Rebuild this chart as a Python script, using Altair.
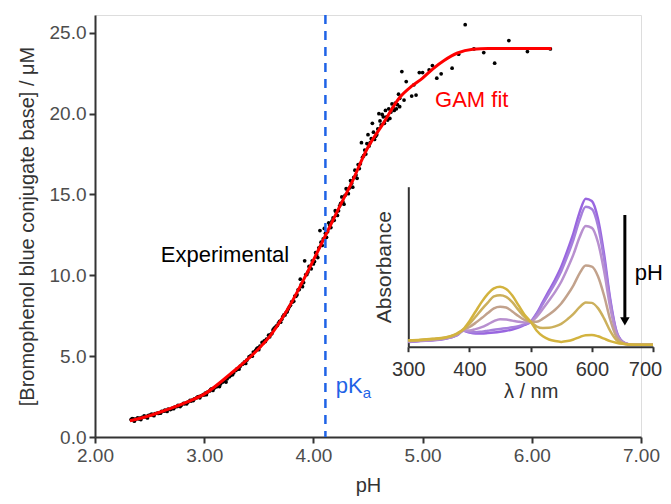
import altair as alt
import pandas as pd

FONT = "Liberation Sans"

# ---------------- main panel data ----------------
exp_ph = [2.33, 2.35, 2.37, 2.39, 2.41, 2.43, 2.45, 2.47, 2.49, 2.51, 2.53, 2.55, 2.57, 2.59,
          2.61, 2.63, 2.65, 2.67, 2.69, 2.71, 2.73, 2.75, 2.77, 2.79, 2.81, 2.83, 2.85, 2.87,
          2.89, 2.91, 2.93, 2.95, 2.97, 2.99, 3.01, 3.03, 3.05, 3.07, 3.09, 3.11, 3.13, 3.15,
          3.17, 3.19, 3.21, 3.23, 3.25, 3.27, 3.29, 3.31, 3.33, 3.35, 3.37, 3.39, 3.41, 3.43,
          3.45, 3.47, 3.49, 3.51, 3.53, 3.55, 3.57, 3.59, 3.61, 3.63, 3.65, 3.67, 3.69, 3.71,
          3.73, 3.75, 3.77, 3.79, 3.81, 3.83, 3.85, 3.87, 3.89, 3.91, 3.93, 3.95, 3.97, 3.99,
          4.01, 4.03, 4.05, 4.07, 4.09, 4.11, 4.13, 4.15, 4.17, 4.19, 4.21, 4.23, 4.25, 4.27,
          4.29, 4.31, 4.33, 4.35, 4.37, 4.39, 4.41, 4.43, 4.45, 4.47, 4.49, 4.51, 4.53, 4.55,
          4.57, 4.59, 4.61, 4.63, 4.65, 4.67, 4.69, 4.71, 4.73, 4.75, 4.77, 4.79,
          2.34, 2.40, 2.46, 2.52, 2.58, 2.64, 2.70, 2.76, 2.82, 2.88, 2.94, 3.00, 3.06, 3.12,
          3.18, 3.24, 3.30, 3.36, 3.42, 3.48, 3.54, 3.60, 3.64, 3.68, 3.72, 3.76, 3.80, 3.84,
          3.86, 3.88, 3.90, 3.92, 3.94, 3.96, 3.98, 4.00, 4.02, 4.04, 4.06, 4.08, 4.10, 4.12,
          4.14, 4.16, 4.18, 4.20, 4.22, 4.24, 4.26, 4.28, 4.30, 4.32, 4.34, 4.36, 4.38, 4.40,
          4.42, 4.44, 4.46, 4.48, 4.50, 4.52, 4.54, 4.56, 4.58, 4.60, 4.62, 4.64, 4.66, 4.68,
          4.70, 4.72, 4.74, 4.76, 4.78,
          2.36, 2.42, 2.48, 2.54, 2.60, 2.66, 2.72, 2.78, 2.84, 2.90, 2.96, 3.02, 3.08, 3.14,
          3.20, 3.26, 3.32, 3.38, 3.44, 3.50, 3.56, 3.62, 3.66, 3.70, 3.74, 3.78, 3.82,
          4.81, 4.85, 4.79, 4.83, 4.90, 4.94, 4.92, 4.97, 5.00, 5.06, 5.09, 5.13, 5.17, 5.27,
          5.33, 5.39, 5.47, 5.56, 5.66, 5.79, 5.96, 6.17]
exp_val = [1.08, 1.12, 1.10, 1.18, 1.16, 1.22, 1.30, 1.27, 1.33, 1.38, 1.36, 1.45, 1.48, 1.50,
           1.58, 1.60, 1.63, 1.72, 1.70, 1.78, 1.85, 1.88, 1.93, 1.97, 2.08, 2.10, 2.15, 2.27,
           2.28, 2.36, 2.42, 2.50, 2.55, 2.62, 2.72, 2.78, 2.85, 2.98, 3.02, 3.10, 3.22, 3.28,
           3.40, 3.52, 3.60, 3.72, 3.85, 3.98, 4.12, 4.20, 4.38, 4.50, 4.65, 4.75, 4.95, 5.05,
           5.25, 5.35, 5.52, 5.62, 5.85, 5.95, 6.05, 6.30, 6.35, 6.62, 6.78, 6.90, 7.15, 7.28,
           7.55, 7.70, 7.92, 8.15, 8.35, 8.72, 8.80, 9.12, 9.45, 9.55, 10.05, 10.20, 10.45, 10.90,
           10.85, 11.25, 11.70, 12.05, 12.25, 12.60, 12.70, 13.10, 13.35, 13.40, 13.90, 14.00, 14.45, 14.55,
           14.95, 15.30, 15.40, 15.70, 16.05, 16.20, 16.85, 16.90, 17.30, 17.75, 18.15, 18.00, 18.45, 18.85,
           18.60, 19.05, 19.55, 19.95, 19.40, 19.80, 20.30, 20.10, 20.35, 20.65, 20.55, 20.95,
           1.14, 1.12, 1.24, 1.42, 1.46, 1.66, 1.74, 1.95, 2.05, 2.22, 2.48, 2.60, 2.95, 3.15,
           3.45, 3.80, 4.22, 4.55, 4.98, 5.45, 5.82, 6.20, 6.72, 7.05, 7.45, 7.75, 8.35, 8.70,
           9.10, 9.76, 9.30, 10.90, 10.05, 10.55, 10.40, 10.70, 11.40, 11.10, 12.77, 11.85, 12.90, 12.35,
           13.25, 12.95, 13.55, 14.00, 13.70, 14.30, 14.85, 14.40, 15.36, 15.05, 15.85, 15.45, 16.50, 16.00,
           16.60, 18.20, 17.40, 17.50, 18.70, 18.20, 19.40, 18.40, 18.70, 20.00, 19.30, 19.80, 20.20, 19.60,
           19.70, 20.60, 20.20, 20.30, 21.20,
           0.98, 1.08, 1.18, 1.32, 1.47, 1.58, 1.75, 1.88, 2.05, 2.25, 2.42, 2.62, 2.88, 3.12,
           3.40, 3.85, 4.20, 4.55, 5.00, 5.40, 5.90, 6.40, 6.85, 7.10, 7.55, 8.05, 8.40,
           22.60, 21.98, 20.43, 20.84, 21.09, 21.15, 21.78, 22.54, 22.54, 22.70, 22.97, 22.19, 22.46, 22.81,
           23.68, 25.50, 24.00, 23.78, 23.12, 24.52, 23.84, 24.00]

fit_ph = [2.32, 2.45, 2.63, 2.87, 3.00, 3.24, 3.48, 3.60, 3.76, 3.97, 4.106, 4.27, 4.335,
          4.49, 4.64, 4.79, 4.90, 5.00, 5.10, 5.20, 5.32, 5.46, 5.60, 6.18]
fit_val = [1.00, 1.22, 1.62, 2.23, 2.65, 3.90, 5.33, 6.22, 7.85, 10.53, 12.40, 14.65, 15.50,
           17.80, 19.40, 21.00, 21.70, 22.20, 22.80, 23.30, 23.75, 23.98, 24.03, 24.03]

pka = 4.11
x_ticks = [2, 3, 4, 5, 6, 7]
y_ticks = [0, 5, 10, 15, 20, 25]

# ---------------- inset data ----------------
wavelength = [300, 320, 340, 360, 370, 380, 390, 400, 410, 420, 430, 440, 450, 460, 470, 480, 490,
              500, 510, 520, 530, 540, 550, 560, 570, 580, 590, 600, 610, 620, 630, 640, 650,
              660, 680, 700]
spec_names = ["s1", "s2", "s3", "s4", "s5", "s6"]
spec_colors = ["#9966e0", "#a680dc", "#b890cf", "#c2a28c", "#ccb05c", "#d3b33e"]
s1 = [0.030, 0.036, 0.040, 0.050, 0.058, 0.072, 0.100, 0.088, 0.082, 0.082, 0.085, 0.089, 0.094,
      0.100, 0.108, 0.120, 0.136, 0.156, 0.210, 0.280, 0.350, 0.420, 0.500, 0.600, 0.710, 0.840,
      0.925, 0.910, 0.800, 0.580, 0.300, 0.100, 0.032, 0.016, 0.012, 0.012]
s2 = [0.031, 0.037, 0.041, 0.050, 0.059, 0.073, 0.101, 0.092, 0.090, 0.094, 0.100, 0.106, 0.111,
      0.116, 0.121, 0.128, 0.140, 0.156, 0.203, 0.267, 0.332, 0.397, 0.472, 0.566, 0.670, 0.793,
      0.874, 0.860, 0.756, 0.548, 0.284, 0.096, 0.031, 0.016, 0.012, 0.012]
s3 = [0.032, 0.038, 0.042, 0.052, 0.060, 0.074, 0.102, 0.102, 0.110, 0.122, 0.140, 0.160, 0.172,
      0.170, 0.163, 0.156, 0.152, 0.156, 0.188, 0.237, 0.289, 0.343, 0.406, 0.487, 0.577, 0.684,
      0.754, 0.743, 0.653, 0.474, 0.247, 0.085, 0.029, 0.016, 0.012, 0.012]
s4 = [0.035, 0.040, 0.045, 0.054, 0.063, 0.078, 0.105, 0.123, 0.149, 0.179, 0.210, 0.240, 0.250,
      0.245, 0.220, 0.192, 0.168, 0.156, 0.156, 0.175, 0.201, 0.231, 0.270, 0.323, 0.384, 0.458,
      0.507, 0.500, 0.440, 0.320, 0.170, 0.063, 0.025, 0.015, 0.012, 0.012]
s5 = [0.038, 0.042, 0.048, 0.056, 0.066, 0.081, 0.108, 0.143, 0.187, 0.233, 0.275, 0.315, 0.322,
      0.312, 0.278, 0.230, 0.186, 0.156, 0.126, 0.117, 0.118, 0.127, 0.143, 0.171, 0.205, 0.247,
      0.277, 0.274, 0.241, 0.177, 0.099, 0.043, 0.021, 0.014, 0.012, 0.012]
s6 = [0.040, 0.044, 0.050, 0.058, 0.068, 0.084, 0.110, 0.160, 0.220, 0.280, 0.330, 0.365, 0.375,
      0.360, 0.320, 0.260, 0.200, 0.156, 0.100, 0.065, 0.045, 0.035, 0.030, 0.035, 0.045, 0.060,
      0.072, 0.073, 0.065, 0.050, 0.035, 0.025, 0.018, 0.014, 0.012, 0.012]
spectra = [s1, s2, s3, s4, s5, s6]
inset_ticks = [300, 400, 500, 600, 700]

# ---------------- frames ----------------
exp_df = pd.DataFrame({"pH": exp_ph, "conc": exp_val})
fit_df = pd.DataFrame({"pH": fit_ph, "conc": fit_val})
pka_df = pd.DataFrame({"pH": [pka]})
lab_df = pd.DataFrame({"pH": [3.19, 5.45], "conc": [10.84, 20.41],
                       "txt": ["Experimental", "GAM fit"], "col": ["black", "red"]})
pk_df = pd.DataFrame({"pH": [4.205], "conc": [2.7]})

rows = []
for name, vals in zip(spec_names, spectra):
    for w, v in zip(wavelength, vals):
        rows.append({"nm": w, "absb": v, "spec": name})
spec_df = pd.DataFrame(rows)
arrow_df = pd.DataFrame({"nm": [654], "absb": [0.823], "absb2": [0.18]})
head_df = pd.DataFrame({"nm": [654], "absb": [0.158]})
ph_df = pd.DataFrame({"nm": [670], "absb": [0.417], "txt": ["pH"]})

W, H = 546, 422

# ---------------- main encodings ----------------
xm = alt.X("pH:Q", scale=alt.Scale(domain=[2, 7], nice=False, zero=False),
           axis=alt.Axis(values=x_ticks, format=".2f", title="pH", grid=False, labelFlush=False,
                         domainColor="#333333", domainWidth=2, tickColor="#333333",
                         tickWidth=2, tickSize=6, labelPadding=3, labelFontSize=19,
                         labelColor="#4d4d4d", labelFont=FONT, titleFont=FONT,
                         titleFontSize=20, titleFontWeight="normal", titleColor="#333333",
                         titlePadding=10))
ym = alt.Y("conc:Q", scale=alt.Scale(domain=[0, 26.1], nice=False),
           axis=alt.Axis(values=y_ticks, format=".1f",
                         title="[Bromophenol blue conjugate base] / μM", grid=False,
                         domainColor="#333333", domainWidth=2, tickColor="#333333",
                         tickWidth=2, tickSize=6, labelPadding=3, labelFontSize=19,
                         labelColor="#4d4d4d", labelFont=FONT, titleFont=FONT,
                         titleFontSize=20, titleFontWeight="normal", titleColor="#333333",
                         titlePadding=12))

points = alt.Chart(exp_df).mark_circle(size=14, color="black", opacity=1).encode(x=xm, y=ym)
fit = alt.Chart(fit_df).mark_line(color="#ff0000", strokeWidth=3,
                                  interpolate="monotone").encode(x=xm, y=ym)
pline = alt.Chart(pka_df).mark_rule(color="#1f63e6", strokeWidth=2.5,
                                    strokeDash=[9, 7]).encode(x=xm)
labels = alt.Chart(lab_df).mark_text(font=FONT, fontSize=22, align="center",
                                     baseline="alphabetic").encode(
    x=xm, y=ym, text="txt:N", color=alt.Color("col:N", scale=None))
pk = alt.Chart(pk_df).mark_text(font=FONT, fontSize=22, align="left", baseline="alphabetic",
                                color="#1f63e6", text="pK").encode(x=xm, y=ym)
pk_sub = alt.Chart(pk_df).mark_text(font=FONT, fontSize=15, align="left",
                                    baseline="alphabetic", color="#1f63e6", text="a",
                                    dx=27, dy=5).encode(x=xm, y=ym)

main = alt.layer(points, fit, pline, labels, pk, pk_sub)

# ---------------- inset encodings ----------------
xi = alt.X("nm:Q", scale=alt.Scale(domain=[300, 700], range=[313.3, 558], nice=False, zero=False),
           axis=alt.Axis(orient="bottom", offset=-90.3, values=inset_ticks, format="d",
                         title="λ / nm", grid=False, labelFlush=False,
                         labelOffset={"condition": {"test": "datum.value == 700", "value": -8},
                                      "value": 0},
                         domainColor="#333333", domainWidth=2,
                         tickColor="#333333", tickWidth=2, tickSize=5, labelPadding=8,
                         labelFontSize=20, labelColor="#333333", labelFont=FONT,
                         titleFont=FONT, titleFontSize=20, titleFontWeight="normal",
                         titleColor="#333333", titlePadding=2))
yi = alt.Y("absb:Q", scale=alt.Scale(domain=[0, 1], range=[331.7, 171.7], nice=False),
           axis=alt.Axis(orient="left", offset=-313.3, ticks=False, labels=False,
                         title="Absorbance", grid=False, domainColor="#333333",
                         domainWidth=2, titleFont=FONT, titleFontSize=21,
                         titleFontWeight="normal", titleColor="#333333", titlePadding=14))

spec = alt.Chart(spec_df).mark_line(strokeWidth=2.5, interpolate="monotone").encode(
    x=xi, y=yi,
    color=alt.Color("spec:N", scale=alt.Scale(domain=spec_names, range=spec_colors), legend=None))
arrow = alt.Chart(arrow_df).mark_rule(color="black", strokeWidth=3).encode(
    x=xi, y=yi, y2=alt.Y2("absb2:Q"))
head = alt.Chart(head_df).mark_point(shape="triangle-down", filled=True, size=90,
                                     color="black", opacity=1).encode(x=xi, y=yi)
phlab = alt.Chart(ph_df).mark_text(font=FONT, fontSize=22, align="left",
                                   baseline="alphabetic", color="black").encode(
    x=xi, y=yi, text="txt:N")

inset = alt.layer(spec, arrow, head, phlab)

chart = alt.layer(main, inset).resolve_scale(x="independent", y="independent").properties(
    width=W, height=H,
    autosize=alt.AutoSizeParams(type="none"),
    padding={"left": 87, "top": 7, "right": 22, "bottom": 59},
).configure_view(stroke=None).configure(font=FONT, background="white")

chart.save("out.html", embed_options={"renderer": "svg", "actions": False})
